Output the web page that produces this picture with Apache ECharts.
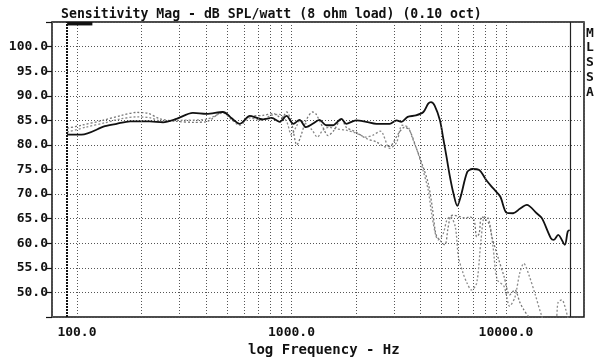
<!DOCTYPE html>
<html><head><meta charset="utf-8">
<script src="https://cdn.jsdelivr.net/npm/echarts@6/dist/echarts.min.js"></script>
<style>html,body{margin:0;padding:0;background:#fff}#c{width:600px;height:362px}</style>
</head><body><div id="c"></div>
<script>
// ---- data (frequency in Hz, level in dB SPL) ----
const titleText = 'Sensitivity Mag - dB SPL/watt (8 ohm load) (0.10 oct)';
const xAxisTitle = 'log Frequency - Hz';
const sideText = ['M','L','S','S','A'];
const yTicks = [50,55,60,65,70,75,80,85,90,95,100];
const xDecades = [100,1000,10000];
const xMinorGrid = [200,300,400,500,600,700,800,900,2000,3000,4000,5000,6000,7000,8000,9000];
const cursorFreqs = [90, 20000];

const solidFreq = [90,105,135,153,177,218,252,291,347,402,479,530,574,640,737,808,883,948,1020,1090,1168,1255,1350,1450,1560,1710,1800,2000,2230,2490,2870,3090,3250,3480,3800,4120,4340,4470,4650,4920,5100,5280,5480,5690,5930,6150,6600,6960,7500,8100,8700,9400,10070,10800,11600,12500,13900,14700,16200,16700,17500,18800,19400,19800];
const solidDb   = [82.1,82.1,83.8,84.3,84.8,84.8,84.6,85.3,86.5,86.3,86.7,85.3,84.3,85.9,85.2,85.5,84.7,85.9,84.3,85.1,83.6,84.3,85.1,84.0,84.0,85.3,84.3,85.0,84.7,84.3,84.3,85.0,84.7,85.7,86.0,86.7,88.4,88.7,88.0,85.0,81.3,77.6,73.5,70.1,67.6,69.5,74.5,75.1,74.9,72.8,71.2,69.5,66.2,66.1,67.0,67.8,66.1,65.1,61.0,60.7,61.7,59.7,62.4,62.7];

const dotAFreq = [90,105,132,161,190,215,244,290,350,400,480,574,640,737,820,900,950,1000,1060,1100,1170,1255,1300,1400,1480,1580,1710,1800,2000,2230,2490,2750,2920,3150,3370,3550,3800,4110,4340,4530,4700,4830,5190,5350,5500,5640,6100,6500,6760,7100,7300,7500,7700,8300,8600,9200,9800,10400,11000,11600,12100,12800,13700,14600,15500];
const dotADb   = [83.4,84.0,85.0,86.0,86.6,86.4,85.3,84.8,84.6,84.7,86.7,84.3,85.8,86.0,86.4,85.5,86.7,84.5,80.0,81.5,85.0,86.7,86.3,83.6,81.9,83.0,85.3,83.6,82.6,81.3,80.6,79.6,79.9,82.3,83.6,83.0,79.6,75.5,72.2,67.4,62.0,61.0,59.7,62.7,65.4,65.7,65.4,65.1,65.4,64.7,61.3,62.0,65.4,64.1,61.3,57.0,53.2,49.5,50.5,48.0,46.5,45.0,44.0,43.5,43.0];

const dotBFreq = [90,110,135,160,190,220,250,300,400,480,530,574,640,720,800,880,950,1000,1050,1100,1168,1250,1320,1400,1500,1600,1800,2000,2230,2400,2600,2870,3090,3280,3500,3650,3900,4100,4340,4500,4700,4830,5100,5300,5500,5800,6000,6300,6580,6900,7300,7650,7950,8300,8700,9100,9800,10400,11000,11600,12100,12800,13700,14600,15500,17000,17500,18200,19000,19500,20000];
const dotBDb   = [82.6,83.6,84.5,85.3,85.7,85.5,84.8,85.0,85.2,86.5,85.0,84.0,85.5,85.0,86.0,86.2,84.7,82.0,83.6,85.0,84.3,83.0,81.6,83.0,83.6,83.3,83.0,82.4,81.6,82.0,82.8,79.3,80.5,84.0,83.6,81.6,78.2,74.9,70.8,66.0,61.7,60.7,62.0,64.7,65.4,63.4,57.3,54.0,51.9,50.5,51.9,60.7,65.4,65.0,59.3,52.6,51.2,47.2,49.0,54.0,55.9,53.5,49.5,45.5,43.0,44.0,48.0,48.5,46.5,44.5,43.0];

const zip = (f, d) => f.map((v, i) => [v, d[i]]);
const MONO = 'DejaVu Sans Mono';
const isDecade = v => Math.abs(Math.log10(v) - Math.round(Math.log10(v))) < 1e-6;

const chart = echarts.init(document.getElementById('c'), null, {renderer: 'canvas'});
chart.setOption({
  animation: false,
  backgroundColor: '#fff',
  title: {
    text: titleText, left: 56, top: 3,
    textStyle: {fontFamily: MONO, fontSize: 13.2, fontWeight: 'bold', color: '#111'}
  },
  graphic: [
    {type: 'text', left: 586, top: 26,
     style: {text: sideText.join('\n'), font: 'bold 13px "DejaVu Sans Mono"', lineHeight: 14.7, fill: '#111'}},
    {type: 'text', left: 248, top: 343,
     style: {text: xAxisTitle, font: 'bold 14px "DejaVu Sans Mono"', fill: '#111'}}
  ],
  grid: {left: 52, right: 16, top: 22, bottom: 45, show: true, borderColor: '#111', borderWidth: 1.5, backgroundColor: 'transparent'},
  xAxis: {
    type: 'log', logBase: 10, min: 76.5, max: 23100,
    axisLine: {show: false},
    axisTick: {show: false},
    axisLabel: {
      fontFamily: MONO, fontSize: 13, fontWeight: 'bold', color: '#111', margin: 9,
      showMinLabel: false, showMaxLabel: false,
      formatter: v => (isDecade(v) && xDecades.includes(Math.round(v))) ? Math.round(v).toFixed(1) : ''
    },
    splitLine: {show: true, lineStyle: {color: '#555', width: 1, type: [1, 2]}}
  },
  yAxis: {
    type: 'value', min: 45, max: 105, interval: 5,
    axisLine: {show: false},
    axisTick: {show: true, length: 6, lineStyle: {color: '#111', width: 1.2}},
    axisLabel: {
      fontFamily: MONO, fontSize: 13, fontWeight: 'bold', color: '#111', margin: 4,
      formatter: v => yTicks.includes(v) ? v.toFixed(1) : ''
    },
    splitLine: {show: true, lineStyle: {color: '#555', width: 1, type: [1, 2]}}
  },
  series: [
    {
      name: 'dotB', type: 'line', data: zip(dotBFreq, dotBDb), symbol: 'none', smooth: 0.3,
      lineStyle: {color: '#8a8a8a', width: 1.3, type: [2, 2]}, clip: true, z: 2
    },
    {
      name: 'dotA', type: 'line', data: zip(dotAFreq, dotADb), symbol: 'none', smooth: 0.3,
      lineStyle: {color: '#777', width: 1.3, type: [2, 2]}, clip: true, z: 2,
      markLine: {
        silent: true, symbol: 'none', label: {show: false}, animation: false,
        lineStyle: {color: '#555', width: 1, type: [1, 2]},
        data: xMinorGrid.map(f => ({xAxis: f}))
      }
    },
    {
      name: 'solid', type: 'line', data: zip(solidFreq, solidDb), symbol: 'none', smooth: 0.3,
      lineStyle: {color: '#111', width: 1.8}, clip: true, z: 3,
      markLine: {
        silent: true, symbol: 'none', label: {show: false}, animation: false,
        data: [
          {xAxis: cursorFreqs[0], lineStyle: {color: '#111', width: 2, type: [2, 1]}},
          {xAxis: cursorFreqs[1], lineStyle: {color: '#222', width: 1.2, type: 'solid'}}
        ]
      },
      markArea: {
        silent: true, itemStyle: {color: '#111'},
        data: [[{xAxis: 90, yAxis: 104.3}, {xAxis: 118, yAxis: 105}]]
      }
    }
  ]
});
</script>
</body></html>
